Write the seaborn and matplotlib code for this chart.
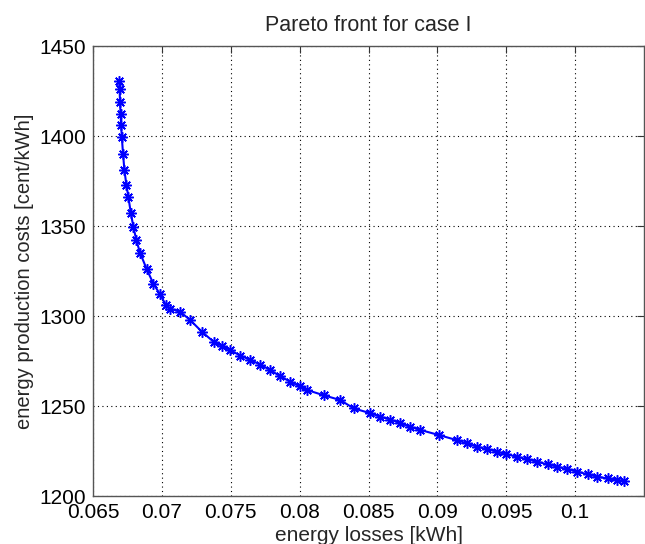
import matplotlib
matplotlib.use("Agg")
import matplotlib.pyplot as plt
import seaborn as sns
import pandas as pd

# Pareto front points
losses = [0.06691, 0.06693, 0.06696, 0.06700, 0.06704, 0.06709, 0.06718, 0.06728,
          0.06742, 0.06757, 0.06775, 0.06793, 0.06815, 0.06842, 0.0689, 0.06938,
          0.06987, 0.0703, 0.0706, 0.07132, 0.07205, 0.0729, 0.07375, 0.07435,
          0.07496, 0.0757, 0.07641, 0.07715, 0.07786, 0.0786, 0.07932, 0.08,
          0.08053, 0.08174, 0.08295, 0.08392, 0.08513, 0.08586, 0.08658, 0.08731,
          0.088, 0.08876, 0.0901, 0.09143, 0.09215, 0.09288, 0.0936, 0.09434,
          0.095, 0.09579, 0.0965, 0.09725, 0.098, 0.0987, 0.0994, 0.10015,
          0.1009, 0.1016, 0.10235, 0.10305, 0.10354]
costs = [1430.7, 1426, 1419, 1412, 1406, 1399.6, 1390, 1381,
         1373, 1366, 1357, 1349.6, 1342, 1335, 1326, 1318,
         1312, 1306, 1304, 1302.4, 1297.8, 1291.3, 1285.7, 1283.5,
         1281, 1278, 1275.6, 1273, 1270, 1266.5, 1263.5, 1261,
         1258.9, 1256, 1253.3, 1248.7, 1246, 1244, 1242.5, 1240.4,
         1238.5, 1236.7, 1233.9, 1231, 1229.2, 1227.4, 1226, 1224.6,
         1223.2, 1221.8, 1220.4, 1219, 1217.6, 1216.3, 1214.9, 1213.5,
         1212.1, 1210.7, 1209.8, 1208.9, 1208.3]

xticks = [0.065, 0.07, 0.075, 0.08, 0.085, 0.09, 0.095, 0.1]
xticklabels = ["0.065", "0.07", "0.075", "0.08", "0.085", "0.09", "0.095", "0.1"]
yticks = [1200, 1250, 1300, 1350, 1400, 1450]

df = pd.DataFrame({"losses": losses, "costs": costs})

sns.set_style("white")
plt.rcParams["font.family"] = ["Liberation Sans", "DejaVu Sans"]

fig = plt.figure(figsize=(6.45, 5.44), dpi=100)
ax = fig.add_axes([0.1442, 0.0882, 0.8543, 0.8272])

sns.lineplot(data=df, x="losses", y="costs", ax=ax, sort=False, estimator=None,
             color=(0, 0, 1), linewidth=1.5, marker=(8, 2, 0), markersize=7.5,
             markeredgewidth=1.1, markeredgecolor=(0, 0, 1))

ax.set_xlim(0.065, 0.105)
ax.set_ylim(1200, 1450)
ax.set_xticks(xticks)
ax.set_xticklabels(xticklabels)
ax.set_yticks(yticks)

ax.grid(True, linestyle=(0, (1, 3)), color="black", linewidth=0.8)
ax.tick_params(direction="in", length=5, width=0.8, labelsize=15,
               top=True, right=True, colors="#333333", labelcolor="black", pad=5)
for s in ax.spines.values():
    s.set_color("#555555")
    s.set_linewidth(1)

ax.set_xlabel("energy losses [kWh]", fontsize=15, va="top")
ax.xaxis.set_label_coords(0.5, -0.066)
ax.set_ylabel("energy production costs [cent/kWh]", fontsize=14.5, labelpad=4)
ax.set_title("Pareto front for case I", fontsize=15.5, pad=11)

fig.savefig("out.png", dpi=100)
